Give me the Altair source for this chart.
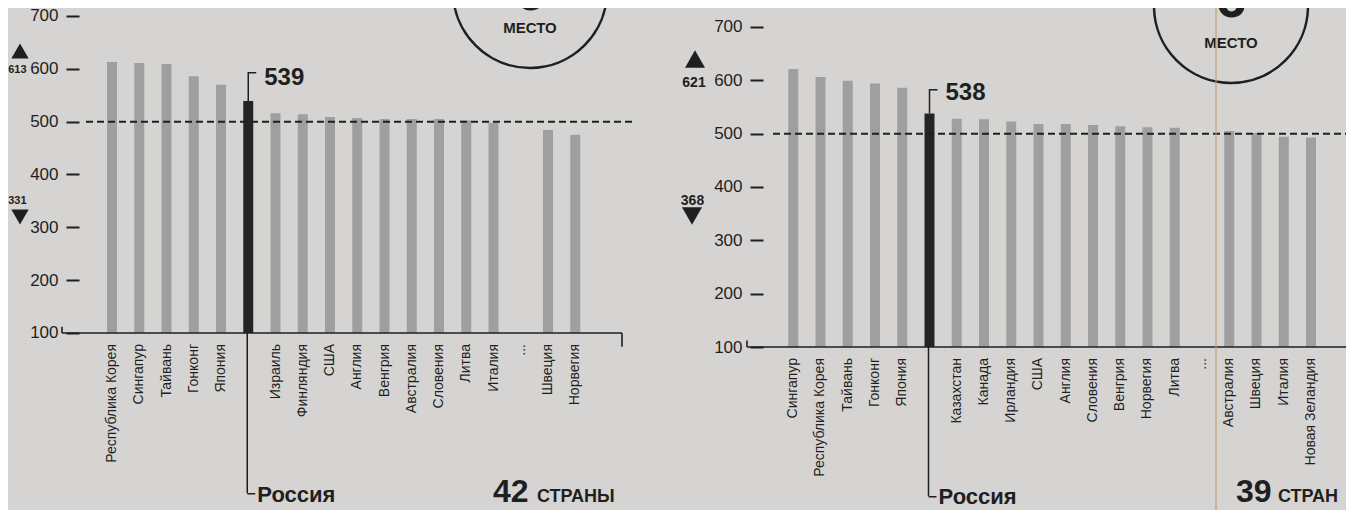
import altair as alt
import pandas as pd

# ---------------- data ----------------
left_countries = ["Республика Корея", "Сингапур", "Тайвань", "Гонконг", "Япония", "Россия",
                  "Израиль", "Финляндия", "США", "Англия", "Венгрия", "Австралия", "Словения",
                  "Литва", "Италия", "...", "Швеция", "Норвегия"]
left_scores = [613, 611, 609, 586, 570, 539, 516, 514, 509, 507, 505, 505, 505, 502, 498, None, 484, 475]
left_max, left_min, left_total, left_place = 613, 331, 42, 6

right_countries = ["Сингапур", "Республика Корея", "Тайвань", "Гонконг", "Япония", "Россия",
                   "Казахстан", "Канада", "Ирландия", "США", "Англия", "Словения", "Венгрия",
                   "Норвегия", "Литва", "...", "Австралия", "Швеция", "Италия", "Новая Зеландия"]
right_scores = [621, 606, 599, 594, 586, 538, 528, 527, 523, 518, 518, 516, 514, 512, 511, None, 505, 501, 494, 493]
right_max, right_min, right_total, right_place = 621, 368, 39, 6

axis_ticks = [100, 200, 300, 400, 500, 600, 700]
average_line = 500
base_value = 100

# ---------------- style ----------------
FONT = "Liberation Sans"
BG = "#d5d4d2"
BAR = "#9f9f9f"
DARK = "#242424"
INK = "#1f1f1f"

left_ids = [f"L{i}" for i in range(len(left_countries))]
spacer_ids = [f"S{i}" for i in range(7)]
right_ids = [f"R{i}" for i in range(len(right_countries))]
xs = alt.Scale(type="band", domain=left_ids + spacer_ids + right_ids,
               range=[45, 1254], paddingInner=0.633, paddingOuter=0, round=False)

one = pd.DataFrame({"k": [0]})


def panel(ids, names, scores, P):
    ys = alt.Scale(domain=P["dom"], nice=False, zero=False)
    yaxis = alt.Axis(orient="left", offset=P["axoff"], values=axis_ticks, domain=False,
                     grid=False, ticks=True, tickSize=13, tickWidth=2, tickColor=INK,
                     labelPadding=8, labelFont=FONT, labelFontSize=17, labelColor=INK,
                     labelFlush=False, labelOverlap=False, title=None)

    def Y(v):
        return alt.YDatum(v, scale=ys, axis=yaxis)

    X = alt.X("id:N", scale=xs, axis=None)
    df = pd.DataFrame({"id": ids, "name": names, "score": scores})
    bars_df = df.dropna(subset=["score"])
    rus = df[df["name"] == "Россия"]

    layers = []
    layers.append(alt.Chart(bars_df).mark_bar().encode(
        x=X, y=alt.Y("score:Q", scale=ys, axis=yaxis), y2=alt.Y2Datum(base_value),
        color=alt.condition(alt.datum.name == "Россия", alt.value(DARK), alt.value(BAR))))
    # dashed average line
    layers.append(alt.Chart(one).mark_rule(color=INK, strokeWidth=2, strokeDash=[7, 4]).encode(
        x=alt.value(P["dash"][0]), x2=alt.value(P["dash"][1]), y=Y(average_line)))
    # baseline bracket
    layers.append(alt.Chart(one).mark_rule(color=INK, strokeWidth=1.6).encode(
        x=alt.value(P["base"][0]), x2=alt.value(P["base"][1]), y=Y(base_value)))
    layers.append(alt.Chart(one).mark_rule(color=INK, strokeWidth=1.6).encode(
        x=alt.value(P["base"][0]), y=Y(base_value), y2=alt.Y2Datum(base_value + 12)))
    if P.get("endtick"):
        layers.append(alt.Chart(one).mark_rule(color=INK, strokeWidth=1.6).encode(
            x=alt.value(P["base"][1]), y=Y(base_value), y2=alt.Y2Datum(base_value - 26)))
    # country labels
    layers.append(alt.Chart(df[df["name"] != "Россия"]).mark_text(
        angle=270, align="right", baseline="middle", dx=-11, font=FONT, fontSize=14, color=INK
    ).encode(x=X, y=Y(base_value), text="name:N"))
    # Russia pointer below
    layers.append(alt.Chart(rus).mark_rule(color=INK, strokeWidth=1.5, xOffset=-1).encode(
        x=X, y=Y(base_value), y2=alt.Y2Datum(P["rus_hook"])))
    layers.append(alt.Chart(rus).mark_bar(size=8, xOffset=3, color=INK).encode(
        x=X, y=Y(P["rus_hook"]), y2=alt.Y2Datum(P["rus_hook"] - 2.8)))
    layers.append(alt.Chart(rus).mark_text(align="left", baseline="alphabetic", dx=9, font=FONT,
                                           fontWeight="bold", fontSize=22, color=INK).encode(
        x=X, y=Y(P["rus_text"]), text="name:N"))
    # Russia score callout
    layers.append(alt.Chart(rus).mark_rule(color=INK, strokeWidth=1.5).encode(
        x=X, y=alt.Y("score:Q", scale=ys, axis=yaxis), y2=alt.Y2Datum(P["hook_top"])))
    layers.append(alt.Chart(rus).mark_bar(size=8, xOffset=4, color=INK).encode(
        x=X, y=Y(P["hook_top"]), y2=alt.Y2Datum(P["hook_top"] - 2.8)))
    layers.append(alt.Chart(rus).mark_text(align="left", baseline="alphabetic", dx=16, font=FONT,
                                           fontWeight="bold", fontSize=24, color=INK).encode(
        x=X, y=Y(P["score_base"]), text=alt.Text("score:Q", format="d")))
    # max / min markers
    layers.append(alt.Chart(one).mark_point(shape="triangle-up", filled=True, size=P["tri"], color=INK,
                                            opacity=1).encode(
        x=alt.value(P["up"][0]), y=Y(P["up"][1])))
    layers.append(alt.Chart(one).mark_point(shape="triangle-down", filled=True, size=P["tri"], color=INK,
                                            opacity=1).encode(
        x=alt.value(P["down"][0]), y=Y(P["down"][1])))
    layers.append(alt.Chart(one).mark_text(text=str(P["max"]), align=P["malign"], baseline="alphabetic",
                                           font=FONT, fontWeight="bold", fontSize=P["msize"], color=INK).encode(
        x=alt.value(P["maxt"][0]), y=Y(P["maxt"][1])))
    layers.append(alt.Chart(one).mark_text(text=str(P["min"]), align=P["malign"], baseline="alphabetic",
                                           font=FONT, fontWeight="bold", fontSize=P["msize"], color=INK).encode(
        x=alt.value(P["mint"][0]), y=Y(P["mint"][1])))
    # country count
    layers.append(alt.Chart(one).mark_text(text=str(P["total"]), align="left", baseline="alphabetic",
                                           font=FONT, fontWeight="bold", fontSize=P["tsize"], color=INK).encode(
        x=alt.value(P["tot"][0]), y=Y(P["tot"][1])))
    layers.append(alt.Chart(one).mark_text(text=P["word"], align="left", baseline="alphabetic",
                                           font=FONT, fontWeight="bold", fontSize=18, color=INK).encode(
        x=alt.value(P["tot"][2]), y=Y(P["tot"][1])))
    # place circle
    layers.append(alt.Chart(one).mark_point(shape="circle", filled=False, size=23716, color=INK,
                                            strokeWidth=2.5, opacity=1).encode(
        x=alt.value(P["circ"][0]), y=Y(P["circ"][1])))
    layers.append(alt.Chart(one).mark_text(text=str(P["place"]), align="center", baseline="alphabetic",
                                           font=FONT, fontWeight="bold", fontSize=56, color=INK).encode(
        x=alt.value(P["circ"][0]), y=Y(P["digit"])))
    layers.append(alt.Chart(one).mark_text(text="МЕСТО", align="center", baseline="alphabetic",
                                           font=FONT, fontWeight="bold", fontSize=15, color=INK).encode(
        x=alt.value(P["circ"][0]), y=Y(P["mesto"])))
    if P.get("fold") is not None:
        layers.append(alt.Chart(one).mark_rule(color="#c2a070", strokeWidth=1.4, opacity=0.8).encode(
            x=alt.value(P["fold"]), y=alt.value(-20), y2=alt.value(540)))
    return alt.layer(*layers)


left_P = dict(dom=[73.5, 715.1], axoff=-17, dash=(24, 570), base=(0, 560), endtick=True,
              rus_hook=-202.9, rus_text=-220.0, hook_top=594.0, score_base=569.4,
              up=(-42, 633.7), down=(-42, 319.5), max=left_max, min=left_min, malign="right",
              maxt=(-35.5, 592.1), mint=(-35.5, 344.1), msize=11, tri=300,
              total=left_total, word="СТРАНЫ", tsize=32,
              tot=(431, -220.0, 475), circ=(468, 747.3), place=left_place, digit=711, mesto=667.8)

right_P = dict(dom=[100, 735.6], axoff=-701, dash=(711, 1290), base=(685, 1290), endtick=False,
               rus_hook=-179.4, rus_text=-194.4, hook_top=583.7, score_base=563.1,
               up=(633, 640), down=(630, 345.6), max=right_max, min=right_min, malign="center",
               maxt=(632, 587.5), mint=(630.5, 366.2), msize=14, tri=400,
               total=right_total, word="СТРАН", tsize=32,
               tot=(1174, -191.5, 1216), circ=(1169, 739.4), place=right_place, digit=718.7,
               mesto=660.6, fold=1154)

left_panel = panel(left_ids, left_countries, left_scores, left_P)
right_panel = panel(right_ids, right_countries, right_scores, right_P)

chart = alt.layer(left_panel, right_panel).resolve_scale(y="independent").resolve_axis(
    y="independent"
).properties(
    width=1284, height=339,
    autosize=alt.AutoSizeParams(type="none"),
    padding={"left": 54, "top": 0, "right": 0, "bottom": 163},
    background=BG,
).configure_view(stroke=None)

chart.save("out.html", embed_options={"renderer": "svg", "actions": False})
